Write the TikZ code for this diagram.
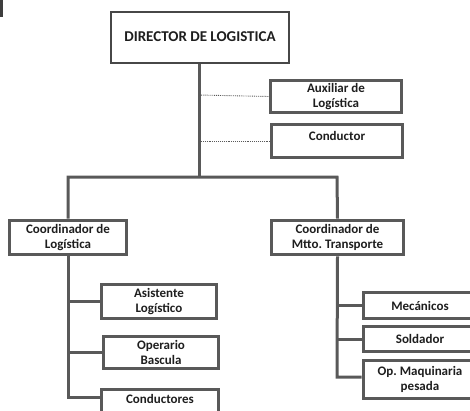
\documentclass[tikz,border=0pt]{standalone}
\usepackage{fontspec}
\setmainfont{Carlito}
\definecolor{edge}{HTML}{595959}
\definecolor{ink}{HTML}{1E1E1E}
\begin{document}
\begin{tikzpicture}[x=1pt,y=-1pt,
  box/.style={draw=edge, line width=3.6pt, fill=white, rectangle, align=center,
    inner sep=0pt, text=ink, font=\fontsize{13}{14.5}\selectfont\bfseries},
  topbox/.style={draw=edge!80!black, line width=2pt, fill=white, rectangle, align=center,
    inner sep=0pt, text=ink, font=\fontsize{15}{17}\selectfont\bfseries},
  txt/.style={text=ink, inner sep=0pt, font=\fontsize{13}{14.5}\selectfont\bfseries},
  link/.style={draw=edge, line width=3pt},
  thin/.style={draw=edge, line width=0.9pt, densely dotted}]
\useasboundingbox (0,0) rectangle (470,410);
\fill[edge!70!black] (0,0) rectangle (3,17);
% nodes
\node[topbox, minimum width=178pt, minimum height=51pt] (dir) at (200,37) {DIRECTOR DE LOGISTICA};
\node[box, minimum width=131pt, minimum height=32pt] (aux) at (336,96.5) {Auxiliar de\\Logística};
\node[box, minimum width=131pt, minimum height=33pt] (con) at (337,141) {};
\node[txt] (cont) at (337,136) {Conductor};
\node[box, minimum width=117pt, minimum height=34pt] (cl) at (68,237.5) {Coordinador de\\Logística};
\node[box, minimum width=132pt, minimum height=34pt] (cm) at (337.5,237.5) {Coordinador de\\Mtto.\ Transporte};
\node[box, minimum width=115pt, minimum height=34pt] (asi) at (159,301.5) {Asistente\\Logístico};
\node[box, minimum width=115pt, minimum height=32pt] (ope) at (161,352.5) {Operario\\Bascula};
\node[box, minimum width=117pt, minimum height=34pt, anchor=north] (cds) at (160,387.8) {};
\node[txt] (cdst) at (160,399) {Conductores};
\node[box, minimum width=113pt, minimum height=26pt] (mec) at (420,305.5) {Mecánicos};
\node[box, minimum width=113pt, minimum height=25pt] (sol) at (420,339) {Soldador};
\node[box, minimum width=113pt, minimum height=38pt] (opm) at (420,379.5) {Op.\ Maquinaria\\pesada};
% coordinates
\coordinate (t1) at (199,177);
\coordinate (hl) at (68,177);
\coordinate (hr) at (337,177);
\coordinate (d1) at (199,95);
\coordinate (d2) at (199,141);
\coordinate (le) at (68,397);
\coordinate (re) at (337,377);
% connectors
\draw[thin] (d1) -- (aux.west);
\draw[thin] (d2) -- (con.west);
\draw[link] (dir.south -| t1) -- (t1);
\draw[link, line join=miter] (cl.north) -- (hl) -- (hr) -- (cm.north);
\draw[link, line join=miter] (cl.south) -- (le) -- (cds.west |- le);
\draw[link] (cl.south |- asi.west) -- (asi.west);
\draw[link] (cl.south |- ope.west) -- (ope.west);
\draw[link, line join=miter] (cm.south) -- (re) -- (opm.west |- re);
\draw[link] (cm.south |- mec.west) -- (mec.west);
\draw[link] (cm.south |- sol.west) -- (sol.west);
\end{tikzpicture}
\end{document}
